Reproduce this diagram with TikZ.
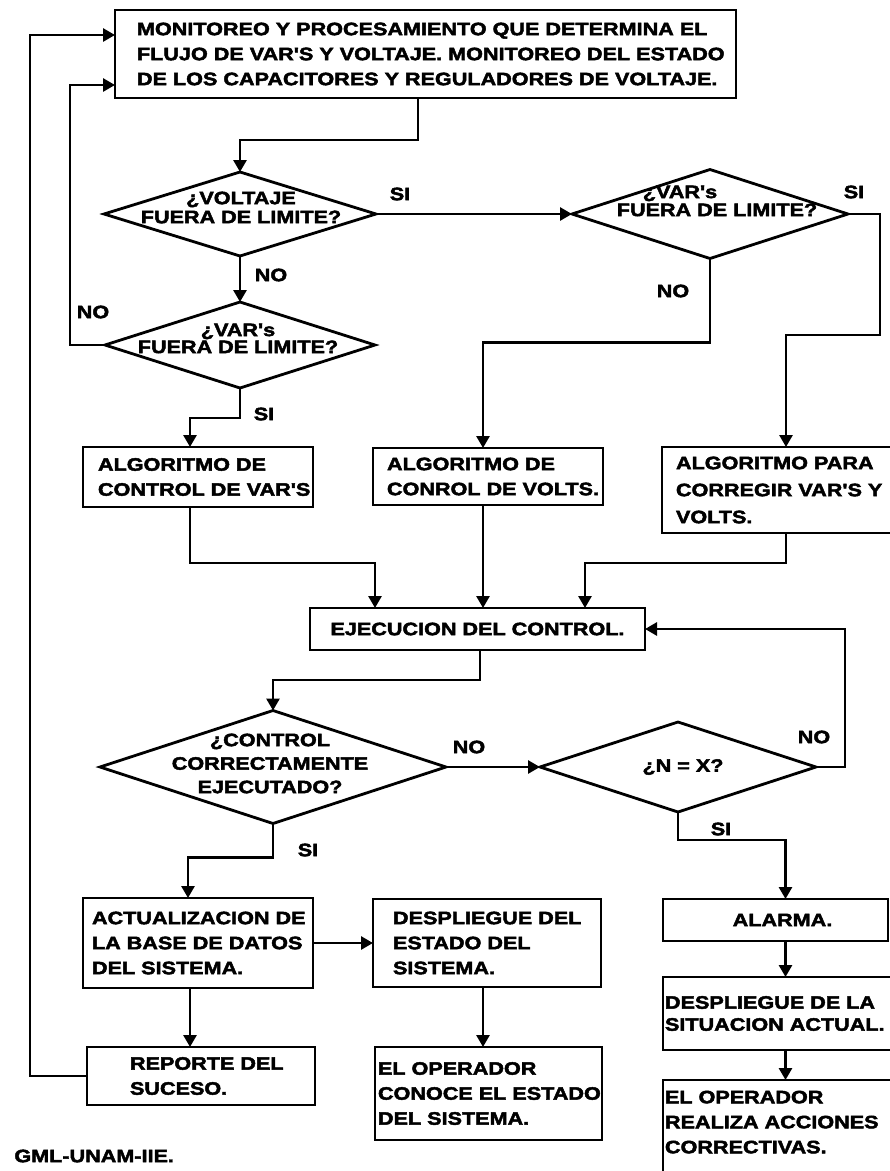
\documentclass[tikz,border=0pt]{standalone}
\usepackage{fontspec}
\newfontfamily\flowfont{Liberation Sans}[FakeStretch=1.2,FakeBold=2.5]
\usetikzlibrary{arrows.meta,shapes.geometric}
% keep every printed line whole: no hyphenation
\hyphenpenalty=10000
\exhyphenpenalty=10000

\begin{document}
\begin{tikzpicture}[x=1pt,y=-1pt,line width=2.8pt,
  txt/.style={font=\flowfont\bfseries\fontsize{18}{25}\selectfont},
  stepbox/.style={txt,draw,rectangle,anchor=north west,inner ysep=0pt,outer sep=0pt,align=left},
  dia/.style={draw,diamond,inner sep=0pt,outer sep=0pt},
  dtext/.style={font=\flowfont\bfseries\fontsize{18}{#1}\selectfont,align=center,inner sep=0pt},
  lbl/.style={txt,inner sep=0pt},
  arr/.style={-{Triangle[length=12pt,width=13pt]}},
]
\clip (0,0) rectangle (890,1171);
\fill[white] (0,0) rectangle (890,1171);

% ---------- process boxes ----------
\node[stepbox,text width=577pt,inner xsep=22pt,minimum height=88pt] (top) at (115,10)
  {MONITOREO~Y~PROCESAMIENTO~QUE~DETERMINA~EL\\FLUJO~DE~VAR'S~Y~VOLTAJE.~MONITOREO~DEL~ESTADO\\DE~LOS~CAPACITORES~Y~REGULADORES~DE~VOLTAJE.};

\node[stepbox,text width=200pt,inner xsep=15pt,minimum height=60pt] (bA) at (83,447)
  {ALGORITMO~DE\\CONTROL~DE~VAR'S};
\node[stepbox,text width=202pt,inner xsep=14pt,minimum height=57pt] (bV) at (373,448)
  {ALGORITMO~DE\\CONROL~DE~VOLTS.};
\node[stepbox,text width=210pt,inner xsep=14pt,minimum height=86pt,
      font=\flowfont\bfseries\fontsize{18}{27}\selectfont] (bP) at (662,447)
  {ALGORITMO~PARA\\CORREGIR~VAR'S~Y\\VOLTS.};

\node[stepbox,text width=335pt,inner xsep=0pt,minimum height=42pt,align=center] (bE) at (310,608)
  {EJECUCION~DEL~CONTROL.};

\node[stepbox,text width=212pt,inner xsep=9pt,minimum height=90pt] (bU) at (83,898)
  {ACTUALIZACION~DE\\LA~BASE~DE~DATOS\\DEL~SISTEMA.};
\node[stepbox,text width=188pt,inner xsep=20pt,minimum height=88pt] (bD) at (373,899)
  {DESPLIEGUE~DEL\\ESTADO~DEL\\SISTEMA.};
\node[stepbox,text width=142pt,inner xsep=43pt,minimum height=58pt] (bR) at (87,1047)
  {REPORTE~DEL\\SUCESO.};
\node[stepbox,text width=221pt,inner xsep=3pt,minimum height=93pt] (bO) at (375,1047)
  {EL~OPERADOR\\CONOCE~EL~ESTADO\\DEL~SISTEMA.};

\node[stepbox,text width=225pt,inner xsep=0pt,minimum height=42pt,align=center] (bAl) at (663,899)
  {\hspace*{14pt}ALARMA.};
\node[stepbox,text width=233pt,inner xsep=2pt,minimum height=73pt,
      font=\flowfont\bfseries\fontsize{18}{22}\selectfont] (bS) at (663,977)
  {DESPLIEGUE~DE~LA\\SITUACION~ACTUAL.};
\node[stepbox,text width=233pt,inner xsep=2pt,minimum height=100pt,text depth=66pt] (bC) at (663,1080)
  {EL~OPERADOR\\REALIZA~ACCIONES\\CORRECTIVAS.};

% ---------- decisions ----------
\node[dia,minimum width=272pt,minimum height=84pt] (dV) at (240,214) {};
\node[dia,minimum width=270pt,minimum height=86pt] (dA) at (240,345) {};
\node[dia,minimum width=276pt,minimum height=89pt] (dB) at (710,214) {};
\node[dia,minimum width=346pt,minimum height=113pt] (dC) at (273,767) {};
\node[dia,minimum width=276pt,minimum height=90pt] (dN) at (678,767) {};

\node[dtext=19] (dVt) at (241,207.5) {¿VOLTAJE\\FUERA~DE~LIMITE?};
\node[dtext=17] (dAt) at (238,338.5) {¿VAR's\\FUERA~DE~LIMITE?};
\node[dtext=18] (dBt) at (717,201) {¿VAR's\hspace*{74pt}\\FUERA~DE~LIMITE?};
\node[dtext=23.5] (dCt) at (270,763.5) {¿CONTROL\\CORRECTAMENTE\\EJECUTADO?};
\node[dtext=20] (dNt) at (683,767) {¿N~=~X?};

% ---------- branch labels ----------
\node[lbl] (lSI1) at (400,194) {SI};
\node[lbl] (lNO1) at (271,275) {NO};
\node[lbl] (lNO2) at (93,312) {NO};
\node[lbl] (lSI2) at (854,192) {SI};
\node[lbl] (lNO3) at (673,291) {NO};
\node[lbl] (lSI3) at (264,414) {SI};
\node[lbl] (lNO4) at (469,747) {NO};
\node[lbl] (lNO5) at (814,737) {NO};
\node[lbl] (lSI4) at (308,850) {SI};
\node[lbl] (lSI5) at (721,829) {SI};
\node[lbl,anchor=west] (credit) at (13,1156) {GML-UNAM-IIE.};

% ---------- connectors ----------
\draw[arr] ([xshift=-7.5pt]top.south) -- ++(0,42) -| (dV.north);
\draw[arr] (dV.south) -- (dA.north);
\draw[arr] (dV.east) -- (dB.west);
\draw[arr] (dA.west) -- (70,345) |- (top.west |- 0,85);
\draw[arr] (bR.west) -- (30,1076) |- (top.west |- 0,35);
\draw[arr] (dA.south) -- ++(0,30) -| ([xshift=-8pt]bA.north);
\draw[arr] (dB.south) -- ++(0,84) -| ([xshift=-5pt]bV.north);
\draw[arr] (dB.east) -| (880,335) -| ([xshift=5pt]bP.north);

\draw[arr] ([xshift=-8pt]bA.south) -- ++(0,56) -| ([xshift=-102.5pt]bE.north);
\draw[arr] ([xshift=-5pt]bV.south) -- ([xshift=-5pt]bV.south |- bE.north);
\draw[arr] ([xshift=5pt]bP.south) -- ++(0,30) -| ([xshift=107.5pt]bE.north);

\draw[arr] ([xshift=2.5pt]bE.south) -- ++(0,30) -| (dC.north);
\draw[arr] (dC.east) -- (dN.west);
\draw[arr] (dN.east) -- (845,767) |- (bE.east);
\draw[arr] (dC.south) -- ++(0,34) -| ([xshift=-10pt]bU.north);
\draw[arr] (dN.south) -- ++(0,28) -| ([xshift=10pt]bAl.north);

\draw[arr] (bU.east) -- (bD.west);
\draw[arr] ([xshift=-8pt]bU.south) -- ([xshift=-8pt]bU.south |- bR.north);
\draw[arr] ([xshift=-4pt]bD.south) -- ([xshift=-4pt]bD.south |- bO.north);
\draw[arr] ([xshift=10pt]bAl.south) -- ([xshift=10pt]bAl.south |- bS.north);
\draw[arr] (bS.south -| 785.5,0) -- (bC.north -| 785.5,0);
\end{tikzpicture}
\end{document}
